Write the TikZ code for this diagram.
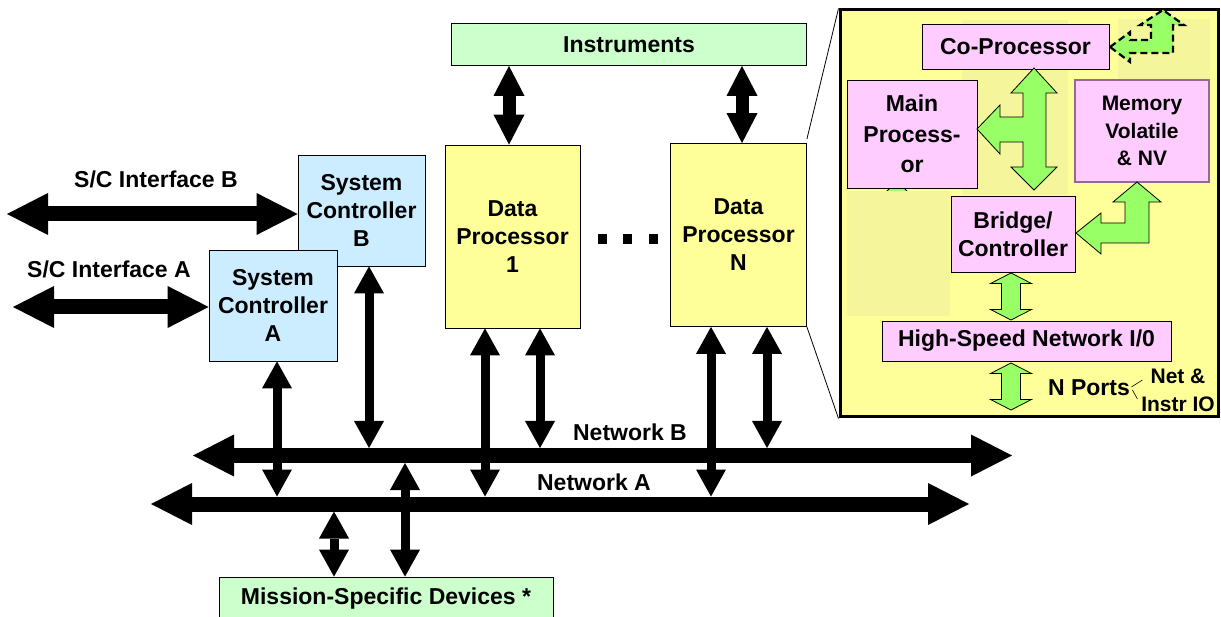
\documentclass[tikz,border=0pt]{standalone}
\usepackage{fontspec}
\setmainfont{Liberation Sans}
\usetikzlibrary{arrows.meta, positioning}

\definecolor{instGreen}{HTML}{CCFFCC}
\definecolor{procYellow}{HTML}{FFFF99}
\definecolor{ctrlBlue}{HTML}{CCECFF}
\definecolor{boxPink}{HTML}{FFCCFF}
\definecolor{arrowGreen}{HTML}{99FF66}
\definecolor{patchYellow}{HTML}{F5F59C}
\definecolor{memEdge}{HTML}{996699}

\tikzstyle{busArrow} = [line width=15pt,
   {Triangle[width=42pt,length=41pt,line width=0pt]}-{Triangle[width=42pt,length=41pt,line width=0pt]}]
\tikzstyle{linkArrow} = [line width=9pt,
   {Triangle[width=30pt,length=27pt,line width=0pt]}-{Triangle[width=30pt,length=27pt,line width=0pt]}]
\tikzstyle{instArrow} = [line width=13pt,
   {Triangle[width=31pt,length=30pt,line width=0pt]}-{Triangle[width=31pt,length=30pt,line width=0pt]}]
\tikzstyle{gArrow} = [draw=black, fill=arrowGreen, line width=0.8pt, line join=miter]
\tikzstyle{block} = [draw, rectangle, line width=0.8pt, align=center, inner sep=0pt]
\tikzstyle{smallText} = [font=\fontsize{21}{27.5}\selectfont\bfseries]

\begin{document}
\begin{tikzpicture}[
  x=1pt, y=-1pt,
  font=\fontsize{23}{28}\selectfont\bfseries,
  ]
  \useasboundingbox (0,0) rectangle (1221,617);
  \clip (0,0) rectangle (1221,617);

  % main boxes
  \node[block, fill=instGreen, minimum width=355pt, minimum height=42pt] (inst) at (629,44.5) {Instruments};
  \node[block, fill=procYellow, minimum width=135pt, minimum height=183pt] (dpOne) at (512.5,236.5) {Data\\Processor\\1};
  \node[block, fill=procYellow, minimum width=136pt, minimum height=183pt] (dpN) at (738.5,235) {Data\\Processor\\N};
  \node[block, fill=ctrlBlue, minimum width=127pt, minimum height=111pt] (scB) at (361.5,210.5) {System\\Controller\\B};
  \node[block, fill=ctrlBlue, minimum width=128pt, minimum height=111pt] (scA) at (273,305.5) {System\\Controller\\A};
  \node[block, fill=instGreen, minimum width=334pt, minimum height=44pt] (mission) at (386,599) {Mission-Specific Devices *};
  \foreach \x in {602.5,627.5,653}
    \fill (\x-4.5,234) rectangle (\x+4.5,244);

  % buses
  \coordinate (netBw) at (193,455.5);
  \coordinate (netBe) at (1012,455.5);
  \coordinate (netAw) at (151,504);
  \coordinate (netAe) at (969,504);
  \coordinate (netBtop) at (0,448);
  \coordinate (netBbot) at (0,463);
  \coordinate (netAtop) at (0,496.5);
  \coordinate (netAbot) at (0,511.5);
  \coordinate (ifBend) at (7,214);
  \coordinate (ifAend) at (13,307);
  \draw[busArrow] (netBw) -- (netBe);
  \draw[busArrow] (netAw) -- (netAe);
  \draw[busArrow] (ifBend) -- (scB.west |- ifBend);
  \draw[busArrow] (ifAend) -- (scA.west |- ifAend);
  \node (ifBlabel) at (156,179) {S/C Interface B};
  \node (ifAlabel) at (109,269) {S/C Interface A};
  \node (netBlabel) at (630,432) {Network B};
  \node (netAlabel) at (594,482) {Network A};

  % links to the buses
  \draw[linkArrow] ([xshift=4pt]scA.south) -- ([xshift=4pt]scA.south |- netAtop);
  \draw[linkArrow] ([xshift=7.5pt]scB.south) -- ([xshift=7.5pt]scB.south |- netBtop);
  \draw[linkArrow] ([xshift=-27.5pt]dpOne.south) -- ([xshift=-27.5pt]dpOne.south |- netAtop);
  \draw[linkArrow] ([xshift=27.5pt]dpOne.south) -- ([xshift=27.5pt]dpOne.south |- netBtop);
  \draw[linkArrow] ([xshift=-27.5pt]dpN.south) -- ([xshift=-27.5pt]dpN.south |- netAtop);
  \draw[linkArrow] ([xshift=28.5pt]dpN.south) -- ([xshift=28.5pt]dpN.south |- netBtop);
  \draw[linkArrow] ([xshift=-52pt]mission.north) -- ([xshift=-52pt]mission.north |- netAbot);
  \draw[linkArrow] ([xshift=19pt]mission.north) -- ([xshift=19pt]mission.north |- netBbot);
  \draw[instArrow] ([xshift=-3.5pt]dpOne.north) -- ([xshift=-3.5pt]dpOne.north |- inst.south);
  \draw[instArrow] ([xshift=3.5pt]dpN.north) -- ([xshift=3.5pt]dpN.north |- inst.south);

  % zoomed view of a data processor
  \node[draw, line width=3pt, fill=procYellow, minimum width=378pt, minimum height=407pt, inner sep=0pt] (inset) at (1029,213.5) {};
  \draw[line width=0.8pt] ([yshift=4pt]dpN.north east) -- (inset.north west);
  \draw[line width=0.8pt] (dpN.south east) -- (inset.south west);
  \draw[gArrow] (897,181) -- (911,195) -- (883,195) -- cycle;
  \fill[patchYellow] (847,191) rectangle (950,316);
  \fill[patchYellow] (962,20) rectangle (1068,195);
  \fill[patchYellow] (1118,19) rectangle (1210,80);

  \node[block, fill=boxPink, minimum width=187pt, minimum height=45pt] (coProc) at (1015.5,46.5) {Co-Processor};
  \node[block, fill=boxPink, minimum width=130pt, minimum height=108pt, font=\fontsize{23}{30.5}\selectfont\bfseries] (mainProc) at (912,134) {Main\\Process-\\or};
  \node[block, smallText, draw=memEdge, line width=1.2pt, fill=boxPink, minimum width=134pt, minimum height=102pt] (memory) at (1142,131) {Memory\\Volatile\\\& NV};
  \node[block, fill=boxPink, minimum width=124pt, minimum height=76pt] (bridge) at (1013,234) {Bridge/\\Controller};
  \node[block, fill=boxPink, minimum width=289pt, minimum height=40pt] (hsn) at (1026.5,341) {High-Speed Network I/0};

  \draw[gArrow] (1034,68) -- (1057,93) -- (1046,93) -- (1046,167) -- (1057,167) -- (1034,190)
    -- (1011,167) -- (1023,167) -- (1023,142) -- (1000,142) -- (1000,154) -- (977,129)
    -- (1000,105) -- (1000,117) -- (1023,117) -- (1023,93) -- (1011,93) -- cycle;
  \draw[gArrow] (1076,233) -- (1101,213) -- (1101,223) -- (1125,223) -- (1125,202) -- (1113,202)
    -- (1137,182) -- (1161,202) -- (1149,202) -- (1149,243) -- (1101,243) -- (1101,254) -- cycle;
  \draw[gArrow, line width=2.2pt, dash pattern=on 7pt off 4pt] (1110,47) -- (1130,32) -- (1130,40)
    -- (1151,40) -- (1151,25) -- (1140,25) -- (1163,10) -- (1184,25) -- (1173,25) -- (1173,53)
    -- (1130,53) -- (1130,62) -- cycle;
  \foreach \t in {273,363}
    \draw[gArrow] (1011,\t) -- ++(20.5,10.5) -- ++(-11,0) -- ++(0,26) -- ++(11,0) -- ++(-20.5,10.5)
      -- ++(-20.5,-10.5) -- ++(11,0) -- ++(0,-26) -- ++(-11,0) -- cycle;

  \node (nPorts) at (1089,388) {N Ports};
  \node[smallText] (netIO) at (1178,376) {Net \&};
  \node[smallText] (instrIO) at (1178,404) {Instr IO};
  \draw[line width=0.6pt] (nPorts.east) ++(-2,-1) -- ++(11,-7);
  \draw[line width=0.6pt] (nPorts.east) ++(-1,2) -- ++(5,9);
\end{tikzpicture}
\end{document}
